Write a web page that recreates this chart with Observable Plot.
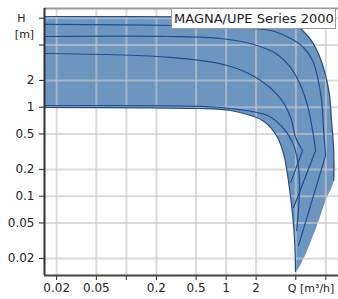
<!DOCTYPE html>
<html><head><meta charset="utf-8">
<script src="https://cdn.jsdelivr.net/npm/d3@7"></script>
<script src="https://cdn.jsdelivr.net/npm/@observablehq/plot@0.6"></script>
<style>
body{margin:0;background:#fff;}
#wrap{position:relative;width:338px;height:299px;font-family:"DejaVu Sans",sans-serif;}
#legend{position:absolute;left:171px;top:8px;width:165px;height:21px;box-sizing:border-box;border:1px solid #9a9a9a;background:#fff;font-size:13px;line-height:19px;color:#222;padding-left:2px;white-space:nowrap;overflow:hidden;}
</style></head><body>
<div id="wrap"><div id="legend">MAGNA/UPE Series 2000</div></div>
<script>
// Axes
const xDomain = [0.0151, 13.4];
const yDomain = [0.01285, 12.85];
const qTicks = [0.02, 0.05, 0.1, 0.2, 0.5, 1, 2, 5, 10];
const qTickLabels = ["0.02", "0.05", "", "0.2", "0.5", "1", "2", "", ""];
const hTicks = [0.02, 0.05, 0.1, 0.2, 0.5, 1, 2, 5, 10];
const hTickLabels = ["0.02", "0.05", "0.1", "0.2", "0.5", "1", "2", "", ""];
const legendText = "MAGNA/UPE Series 2000";

// Max curve (upper / right boundary)
const maxQ = [0.0151, 0.555, 2.22, 3.52, 4.64, 5.85, 7.37, 8.66, 9.95, 10.9, 11.4, 12.0, 12.0];
const maxH = [10.45, 10.33, 10.19, 9.69, 8.71, 7.28, 5.34, 3.71, 2.27, 1.35, 0.709, 0.326, 0.150];
// Right edge from max curve to the tip
const edgeQ = [12.0, 9.95, 8.27, 5.98, 4.98];
const edgeH = [0.150, 0.0894, 0.0494, 0.0200, 0.0143];
// Min curve (lower boundary)
const minQ = [0.0151, 0.175, 0.555, 1.11, 1.76, 2.32, 2.79, 3.28, 3.69, 3.95, 4.24, 4.54, 4.75, 4.92, 4.98];
const minH = [0.992, 0.98, 0.967, 0.918, 0.807, 0.709, 0.592, 0.456, 0.326, 0.239, 0.143, 0.0787, 0.0468, 0.0245, 0.0143];
// Intermediate curves (main part)
const aQ = [0.0151, 0.277, 1.11, 2.79, 4.44, 5.98, 7.37, 8.27, 9.07, 9.51, 9.95];
const aH = [8.50, 8.28, 7.86, 7.28, 5.91, 4.69, 3.35, 2.16, 1.19, 0.548, 0.287];
const bQ = [0.0151, 0.277, 0.881, 1.89, 3.14, 4.44, 5.59, 6.56, 7.37, 7.90];
const bH = [6.23, 6.23, 5.91, 5.06, 4.01, 2.79, 1.75, 1.04, 0.548, 0.326];
const cQ = [0.0151, 0.277, 1.03, 2.07, 3.52, 4.44, 4.98, 5.85];
const cH = [4.01, 3.62, 2.94, 2.10, 1.25, 0.766, 0.456, 0.326];
const dQ = [0.0151, 0.555, 1.11, 2.61, 3.77, 4.64, 5.21, 5.46, 5.10];
const dH = [1.04, 1.02, 0.967, 0.807, 0.576, 0.401, 0.252, 0.132, 0.0410];
// Straight tails of the intermediate curves
const aTailQ = [9.95, 5.33];
const aTailH = [0.287, 0.0279];
const bTailQ = [7.90, 4.75];
const bTailH = [0.326, 0.0747];
const cTailQ = [5.85, 4.44];
const cTailH = [0.326, 0.143];

const pts = (Q, H, name) => Q.map((q, i) => ({Q: q, H: H[i], curve: name}));
const polygon = [
  ...pts(maxQ, maxH, "env"),
  ...pts(edgeQ, edgeH, "env").slice(1),
  ...pts(minQ, minH, "env").reverse().slice(1)
];
const curves = [
  ...pts(maxQ, maxH, "max"),
  ...pts(aQ, aH, "a"),
  ...pts(bQ, bH, "b"),
  ...pts(cQ, cH, "c"),
  ...pts(dQ, dH, "d"),
  ...pts(minQ, minH, "min")
];
const tails = [
  ...pts(aTailQ, aTailH, "a"),
  ...pts(bTailQ, bTailH, "b"),
  ...pts(cTailQ, cTailH, "c")
];
const xLabels = qTicks.map((t, i) => ({Q: t, H: yDomain[0], t: qTickLabels[i]})).filter(d => d.t);
const yLabels = hTicks.map((t, i) => ({Q: xDomain[0], H: t, t: hTickLabels[i]})).filter(d => d.t);

const chart = Plot.plot({
  width: 338, height: 299,
  marginLeft: 44, marginRight: 0, marginTop: 8, marginBottom: 24,
  style: {fontFamily: "DejaVu Sans", fontSize: "12px", color: "#222", background: "#fff", overflow: "visible"},
  x: {type: "log", domain: xDomain, ticks: qTicks, tickFormat: () => "", tickSize: 5, label: null},
  y: {type: "log", domain: yDomain, ticks: hTicks, tickFormat: () => "", tickSize: 5, label: null},
  marks: [
    Plot.line(polygon, {x: "Q", y: "H", fill: "#6c96c0", stroke: "none", curve: "catmull-rom"}),
    Plot.ruleX(qTicks, {stroke: "#c8c8c8", strokeOpacity: 0.65, strokeWidth: 2}),
    Plot.ruleY(hTicks, {stroke: "#c8c8c8", strokeOpacity: 0.65, strokeWidth: 2}),
    Plot.line(curves, {x: "Q", y: "H", z: "curve", stroke: "#1f4f8f", strokeWidth: 1.2, curve: "catmull-rom"}),
    Plot.line(tails, {x: "Q", y: "H", z: "curve", stroke: "#1f4f8f", strokeWidth: 1.2, curve: "linear"}),
    Plot.ruleY([yDomain[1]], {stroke: "#9a9a9a", strokeWidth: 2}),
    Plot.ruleX([xDomain[0]], {stroke: "#333", strokeWidth: 2}),
    Plot.ruleY([yDomain[0]], {stroke: "#444", strokeWidth: 2}),
    Plot.text(xLabels, {x: "Q", y: "H", text: "t", dy: 12.5, fontSize: 12, fill: "#222"}),
    Plot.text(yLabels, {x: "Q", y: "H", text: "t", dx: -10, textAnchor: "end", fontSize: 12, fill: "#222"}),
    Plot.text([{Q: xDomain[0], H: 10, t: "H"}], {x: "Q", y: "H", text: "t", dx: -23, fontSize: 11, fill: "#222"}),
    Plot.text([{Q: xDomain[0], H: 10, t: "[m]"}], {x: "Q", y: "H", text: "t", dx: -20, dy: 16, fontSize: 11, fill: "#222"}),
    Plot.text([{Q: 5, H: yDomain[0], t: "Q [m³/h]"}], {x: "Q", y: "H", text: "t", dx: -8, dy: 12.5, textAnchor: "start", fontSize: 11, fill: "#222"})
  ]
});
const wrap = document.getElementById("wrap");
wrap.insertBefore(chart, wrap.firstChild);
</script>
</body></html>
